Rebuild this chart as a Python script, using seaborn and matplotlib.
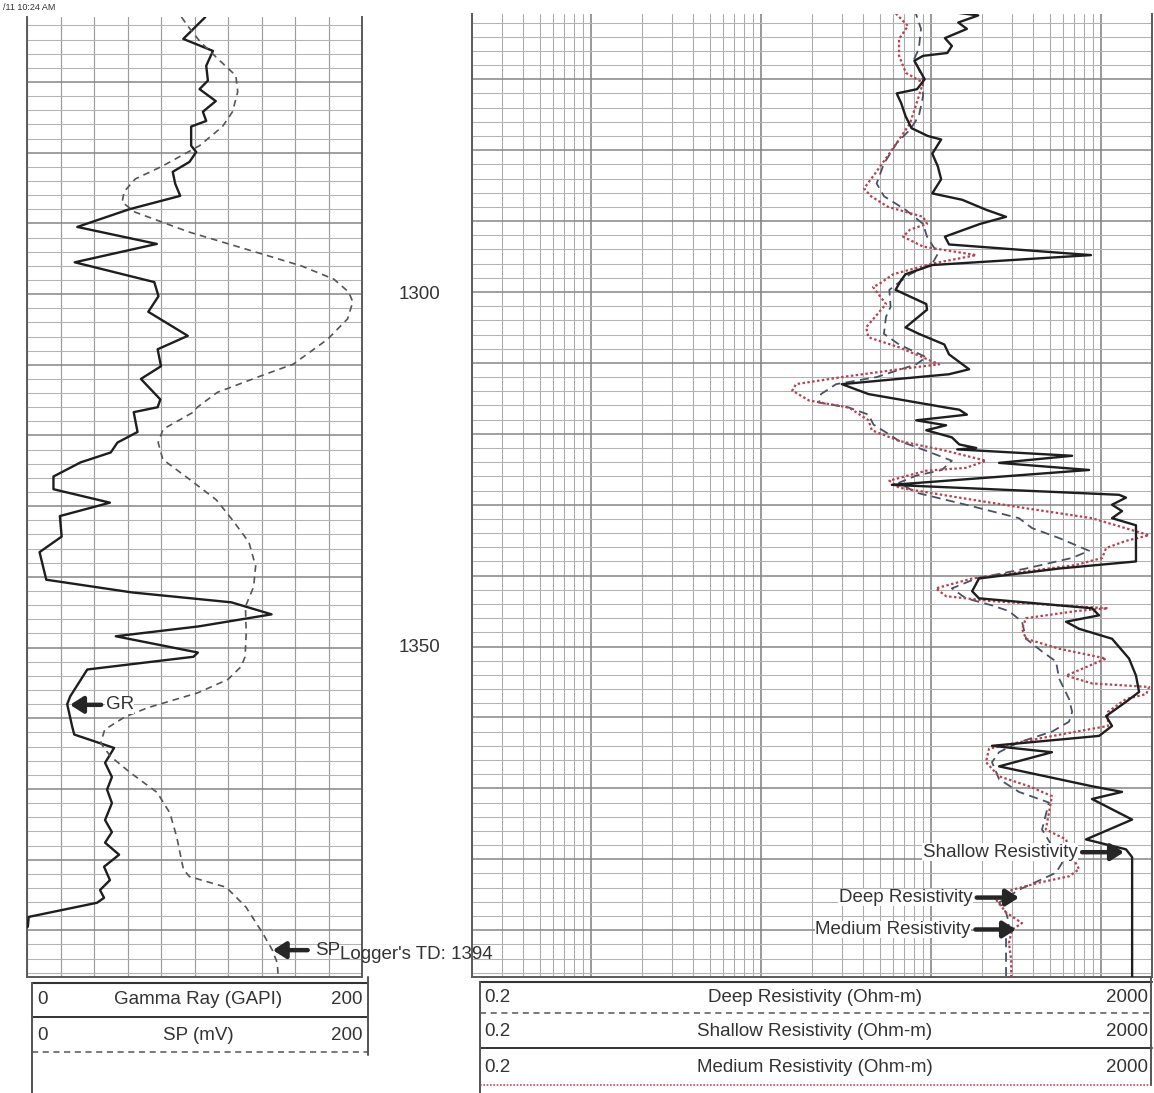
"""Well log plot: GR/SP track and resistivity track."""

import matplotlib.pyplot as plt
import matplotlib.transforms as mtransforms
import numpy as np
import pandas as pd
import seaborn as sns
from matplotlib.ticker import FixedLocator

sns.set_theme(style="white")
plt.rcParams["font.family"] = ["Liberation Sans", "DejaVu Sans"]

W, H = 1154, 1093
TOP_DEPTH, BASE_DEPTH = 1260.8, 1396.6

# (depth ft, value)
GR = [(1260.8, 106.5), (1263.9, 93.3), (1265.6, 111), (1267.7, 107), (1269.8, 108),
      (1271.0, 103), (1272.7, 112.7), (1274.2, 105), (1275.5, 107), (1276.3, 98),
      (1279.0, 98), (1279.9, 101), (1281.3, 97), (1282.7, 87), (1284.4, 88.5),
      (1286.1, 91.5), (1288.0, 61), (1290.5, 30), (1292.9, 77.5), (1295.5, 28.5),
      (1298.3, 76), (1300.3, 78.5), (1302.5, 72.4), (1305.9, 96), (1307.8, 78),
      (1310.2, 80), (1312.0, 68), (1314.9, 79.6), (1316.0, 78), (1316.7, 63.7),
      (1319.5, 66), (1321.0, 54), (1322.4, 50), (1323.8, 32), (1325.8, 15.8),
      (1327.6, 15.8), (1329.5, 49.5), (1331.4, 19.6), (1334.3, 20.7), (1336.5, 7.5),
      (1340.4, 11.5), (1342.2, 62.7), (1343.6, 122), (1345.3, 146), (1347.0, 102.6),
      (1348.4, 53), (1350.7, 102), (1351.3, 99.4), (1353.1, 36), (1356.9, 25.8),
      (1358.0, 24), (1361.2, 27), (1362.3, 28.2), (1364.2, 52), (1366.3, 46.6),
      (1368.3, 50.7), (1370.1, 47.8), (1372.0, 50.7), (1374.4, 46.6), (1376.1, 50.7),
      (1377.6, 46.6), (1379.3, 55), (1381.0, 46), (1382.9, 49.5), (1384.3, 43.6),
      (1385.4, 46), (1386.1, 41.8), (1388.1, 1), (1389.5, 0.5)]

SP = [(1260.8, 92.2), (1262.2, 96.4), (1264.3, 103.4), (1267.0, 115.2), (1269.1, 124.7),
      (1271.4, 125.8), (1274.2, 122.7), (1276.3, 116.7), (1279.0, 103), (1281.9, 80.8),
      (1283.7, 64.7), (1285.5, 58), (1287.0, 56.8), (1288.4, 64.5), (1291.2, 96.5),
      (1294.0, 135.8), (1296.0, 163.7), (1297.9, 183.3), (1299.7, 192), (1301.1, 194.5),
      (1303.5, 191.4), (1306.4, 179.4), (1309.9, 159), (1311.6, 139.3), (1313.9, 113.6),
      (1316.0, 101.7), (1316.7, 99.3), (1319.1, 81.3), (1321.0, 78.3), (1323.4, 81.1),
      (1326.2, 97), (1329.1, 113), (1331.9, 122.5), (1335.1, 132.5), (1338.5, 136.5),
      (1341.4, 135.3), (1344.2, 130.4), (1347.9, 130.9), (1351.3, 130.2), (1352.7, 127.8),
      (1354.5, 120), (1356.4, 102), (1358.5, 72.2), (1359.8, 58.5), (1361.6, 46.4),
      (1363.5, 44), (1365.4, 49.9), (1367.7, 61.7), (1370.5, 77.7), (1373.4, 85.3),
      (1376.8, 89.4), (1381.4, 93.4), (1382.4, 97), (1383.9, 118.9), (1386.7, 130.7),
      (1390.4, 140.7), (1392.8, 146.5), (1394.6, 149.4), (1396.6, 150)]

SHALLOW = [(1260.5, 131), (1261.0, 190), (1262.0, 145), (1262.9, 163), (1264.2, 121),
           (1265.3, 133), (1266.3, 125), (1266.7, 90), (1267.4, 80), (1270.0, 92),
           (1271.4, 83), (1272.0, 63), (1273.4, 67), (1275.2, 71), (1276.9, 77),
           (1278.0, 96), (1278.5, 115), (1280.5, 102), (1282.3, 110), (1284.1, 115),
           (1286.1, 102), (1287.0, 153), (1288.4, 211), (1289.4, 277), (1290.4, 195),
           (1292.2, 121), (1293.3, 128), (1294.8, 875), (1296.2, 102), (1297.5, 71),
           (1298.3, 67), (1299.7, 62), (1301.7, 94), (1302.5, 95), (1305.0, 71),
           (1305.9, 85), (1307.4, 120), (1308.8, 128), (1310.9, 168), (1311.6, 128),
           (1313.0, 30), (1314.4, 43), (1316.3, 123), (1316.6, 147), (1317.3, 163),
           (1318.1, 82), (1318.8, 123), (1319.5, 94), (1320.5, 133), (1321.5, 147),
           (1322.0, 185), (1322.2, 143), (1323.1, 678), (1324.1, 252), (1325.1, 853),
           (1327.2, 59), (1328.6, 1280), (1329.0, 1406), (1330.0, 1164), (1330.9, 1333),
           (1331.9, 1164), (1332.9, 1610), (1338.0, 1610), (1339.0, 568), (1340.4, 192),
           (1342.2, 175), (1343.2, 192), (1344.6, 887), (1345.6, 977), (1346.5, 624),
           (1347.5, 745), (1348.9, 1164), (1351.7, 1466), (1354.1, 1610), (1356.4, 1679),
           (1357.8, 1406), (1359.8, 1074), (1361.2, 1164), (1362.6, 977), (1364.0, 229),
           (1364.9, 516), (1366.9, 252), (1369.7, 887), (1370.5, 1333), (1371.5, 887),
           (1374.4, 1528), (1377.2, 818), (1378.6, 1406), (1379.7, 1528), (1396.6, 1528)]

DEEP = [(1260.1, 80), (1262.9, 87.5), (1265.7, 85), (1267.1, 80), (1270.0, 90),
        (1272.4, 90), (1275.2, 85), (1277.1, 75.5), (1279.0, 63), (1281.9, 53),
        (1284.7, 48), (1286.5, 53), (1288.4, 71), (1290.4, 90), (1292.2, 95),
        (1294.6, 110), (1296.0, 102), (1297.5, 75.5), (1298.9, 63), (1299.7, 57),
        (1302.1, 58), (1303.5, 54.5), (1305.9, 53), (1307.4, 65), (1309.2, 94),
        (1310.2, 82), (1312.0, 48), (1313.0, 27.7), (1314.4, 22.6), (1315.6, 22),
        (1316.3, 33), (1317.3, 43), (1318.7, 46), (1320.1, 57), (1321.0, 65),
        (1322.4, 94), (1323.8, 133), (1325.1, 116), (1325.9, 82), (1326.9, 65),
        (1328.3, 82), (1330.0, 161), (1331.9, 330), (1333.3, 394), (1334.7, 568),
        (1336.5, 853), (1337.5, 678), (1339.0, 363), (1340.4, 185), (1341.8, 133),
        (1343.2, 161), (1344.2, 229), (1345.0, 288), (1346.5, 344), (1348.9, 363),
        (1350.7, 451), (1352.1, 545), (1354.5, 568), (1357.4, 650), (1359.2, 678),
        (1360.6, 650), (1362.0, 516), (1363.5, 330), (1364.9, 252), (1366.3, 229),
        (1368.7, 252), (1370.5, 330), (1372.0, 495), (1375.8, 451), (1380.5, 592),
        (1381.9, 545), (1384.3, 330), (1386.1, 252), (1387.5, 277), (1389.0, 288),
        (1390.9, 277), (1396.6, 277)]

MEDIUM = [(1260.1, 51.6), (1260.6, 61.5), (1262.5, 73.4), (1264.3, 65), (1266.7, 65),
          (1269.1, 71.4), (1270.5, 90), (1272.4, 85), (1276.2, 75.5), (1279.0, 63),
          (1283.3, 47), (1285.4, 40.5), (1286.5, 44.5), (1288.0, 56), (1289.4, 90),
          (1290.4, 95), (1291.2, 75.5), (1292.2, 68.7), (1293.6, 90), (1294.8, 185),
          (1296.0, 102), (1297.5, 60), (1298.9, 49.5), (1299.3, 45.7), (1301.7, 54.5),
          (1305.0, 41.6), (1306.4, 43), (1307.8, 65), (1310.2, 112), (1310.9, 65),
          (1312.0, 30), (1313.0, 16.1), (1313.9, 15.3), (1315.3, 19.2), (1316.3, 33),
          (1318.1, 43), (1319.5, 45), (1321.0, 65), (1322.4, 123), (1323.8, 211),
          (1324.8, 161), (1325.2, 94), (1326.6, 57), (1327.6, 65), (1329.0, 147),
          (1330.5, 363), (1331.9, 887), (1334.3, 1923), (1335.1, 1406), (1336.1, 1074),
          (1337.5, 1019), (1338.5, 714), (1339.4, 363), (1340.4, 175), (1341.8, 107),
          (1342.9, 123), (1343.6, 229), (1344.2, 568), (1344.6, 1102), (1345.0, 714),
          (1346.0, 363), (1347.5, 344), (1348.9, 363), (1350.3, 568), (1351.7, 1074),
          (1354.1, 624), (1355.2, 887), (1355.7, 1923), (1356.7, 1850), (1357.4, 1406),
          (1359.2, 1102), (1361.2, 1102), (1362.0, 714), (1363.5, 330), (1364.4, 220),
          (1366.3, 211), (1368.3, 252), (1369.7, 378), (1371.1, 516), (1375.8, 475),
          (1377.2, 624), (1379.6, 678), (1381.4, 745), (1382.4, 650), (1383.3, 433),
          (1384.3, 301), (1385.7, 242), (1387.5, 277), (1389.0, 344), (1389.9, 301),
          (1391.8, 288), (1394.2, 297), (1396.6, 297)]

DEPTH_LABELS = [1300, 1350]
LEFT_HEADER = [("0", "Gamma Ray (GAPI)", "200"), ("0", "SP (mV)", "200")]
RIGHT_HEADER = [("0.2", "Deep Resistivity (Ohm-m)", "2000"),
                ("0.2", "Shallow Resistivity (Ohm-m)", "2000"),
                ("0.2", "Medium Resistivity (Ohm-m)", "2000")]

FS = 13.5
ARROW = dict(arrowstyle="-|>,head_length=0.55,head_width=0.35", lw=3.2,
             color="#262626", shrinkA=3, shrinkB=0, mutation_scale=14)


def px_rect(x0, y0, x1, y1):
    return [x0 / W, 1 - y1 / H, (x1 - x0) / W, (y1 - y0) / H]


def to_df(pairs):
    return pd.DataFrame(pairs, columns=["depth", "value"])


def plot_curve(ax, pairs, **kws):
    sns.lineplot(data=to_df(pairs), x="value", y="depth", orient="y", sort=True,
                 estimator=None, legend=False, ax=ax, zorder=3,
                 solid_joinstyle="round", dash_joinstyle="round", **kws)


def style_track(ax):
    ax.set_ylim(BASE_DEPTH, TOP_DEPTH)
    ax.yaxis.set_major_locator(FixedLocator(np.arange(1270, 1400, 10)))
    ax.yaxis.set_minor_locator(FixedLocator(np.arange(1262, 1398, 2)))
    ax.grid(axis="y", which="major", color="#858585", lw=1.1)
    ax.grid(axis="y", which="minor", color="#b3b3b3", lw=0.75)
    ax.tick_params(which="both", length=0, labelbottom=False, labelleft=False)
    ax.set_xlabel("")
    ax.set_ylabel("")
    ax.spines["top"].set_visible(False)
    for side in ["left", "right", "bottom"]:
        ax.spines[side].set_color("#5a5a5a")
        ax.spines[side].set_linewidth(1.4)


fig = plt.figure(figsize=(W / 100, H / 100), dpi=100)

# left track: GR + SP
ax_gr = fig.add_axes(px_rect(27, 17, 362, 977))
ax_gr.set_zorder(3)
ax_gr.set_xlim(0, 200)
ax_gr.xaxis.set_major_locator(FixedLocator(np.arange(0, 201, 20)))
ax_gr.grid(axis="x", which="major", color="#9c9c9c", lw=0.85)
plot_curve(ax_gr, GR, color="#1e1e1e", lw=1.7)
plot_curve(ax_gr, SP, color="#555555", lw=1.2, dashes=(4, 3))
style_track(ax_gr)

# right track: resistivities on log scale
ax_res = fig.add_axes(px_rect(472, 14, 1152, 977))
ax_res.set_xscale("log")
ax_res.set_xlim(0.2, 2000)
ax_res.xaxis.set_major_locator(FixedLocator([1, 10, 100, 1000]))
ax_res.xaxis.set_minor_locator(FixedLocator(
    [m * 10.0 ** e for e in range(-1, 3) for m in range(2, 10) if 0.2 < m * 10.0 ** e < 2000]))
ax_res.grid(axis="x", which="major", color="#7d7d7d", lw=1.1)
ax_res.grid(axis="x", which="minor", color="#a9a9a9", lw=0.75)
plot_curve(ax_res, DEEP, color="#4a5262", lw=1.3, dashes=(5, 3))
plot_curve(ax_res, MEDIUM, color="#b8404f", lw=1.6, dashes=(1.1, 1.1))
plot_curve(ax_res, SHALLOW, color="#1e1e1e", lw=1.7)
style_track(ax_res)

# depth labels
trans = mtransforms.blended_transform_factory(fig.transFigure, ax_gr.transData)
for d in DEPTH_LABELS:
    ax_gr.text(420 / W, d, str(d), transform=trans, ha="center", va="center",
               fontsize=FS, color="#333333")

# curve annotations
bbox = dict(fc="white", ec="none", pad=0.3)
ax_gr.annotate("GR", xy=(25.7, 1358.1), xytext=(47, 1358.1), ha="left", va="center",
               fontsize=FS, color="#333333", arrowprops=ARROW, bbox=bbox)
ax_gr.annotate("SP", xy=(146.7, 1392.8), xytext=(172, 1392.8), ha="left", va="center",
               fontsize=FS, color="#333333", arrowprops=ARROW,
               annotation_clip=False, zorder=6)
ax_gr.text(187, 1393.4, "Logger's TD: 1394", ha="left", va="center", fontsize=FS,
           color="#333333", clip_on=False, zorder=5)
for label, depth, head, tail in [("Shallow Resistivity", 1379.0, 1368, 730),
                                 ("Deep Resistivity", 1385.4, 330, 175),
                                 ("Medium Resistivity", 1389.9, 317, 172)]:
    ax_res.annotate(label, xy=(head, depth), xytext=(tail, depth), ha="right",
                    va="center", fontsize=FS, color="#333333", arrowprops=ARROW,
                    bbox=bbox, zorder=6)

# header boxes in pixel space
ov = fig.add_axes([0, 0, 1, 1])
ov.set_xlim(0, W)
ov.set_ylim(H, 0)
ov.axis("off")
ov.patch.set_alpha(0)

ov.plot([32, 368], [983, 983], color="#333333", lw=1.5)
ov.plot([32, 368], [1017, 1017], color="#333333", lw=1.4)
ov.plot([32, 368], [1052, 1052], color="#555555", lw=1.1, ls=(0, (4, 3)))
ov.plot([32, 32], [983, 1093], color="#555555", lw=1.4)
ov.plot([368, 368], [977, 1055], color="#555555", lw=1.4)
for (lo, name, hi), y in zip(LEFT_HEADER, [1000, 1035]):
    ov.text(37, y, lo, ha="left", va="center", fontsize=FS, color="#333333")
    ov.text(198, y, name, ha="center", va="center", fontsize=FS, color="#333333")
    ov.text(363, y, hi, ha="right", va="center", fontsize=FS, color="#333333")

ov.plot([480, 1152], [982, 982], color="#333333", lw=1.5)
ov.plot([480, 1152], [1013, 1013], color="#555555", lw=1.1, ls=(0, (4, 3)))
ov.plot([480, 1152], [1048, 1048], color="#333333", lw=1.4)
ov.plot([480, 1152], [1085, 1085], color="#c04a58", lw=1.2, ls=(0, (1, 1)))
ov.plot([480, 480], [982, 1093], color="#555555", lw=1.4)
ov.plot([1151, 1151], [977, 1085], color="#555555", lw=1.4)
for (lo, name, hi), y in zip(RIGHT_HEADER, [998, 1031, 1067]):
    ov.text(484, y, lo, ha="left", va="center", fontsize=FS, color="#333333")
    ov.text(815, y, name, ha="center", va="center", fontsize=FS, color="#333333")
    ov.text(1148, y, hi, ha="right", va="center", fontsize=FS, color="#333333")

ov.text(3, 8, "/11 10:24 AM", ha="left", va="center", fontsize=6.5, color="#333333")

fig.savefig("out.png", dpi=100)
plt.close(fig)
